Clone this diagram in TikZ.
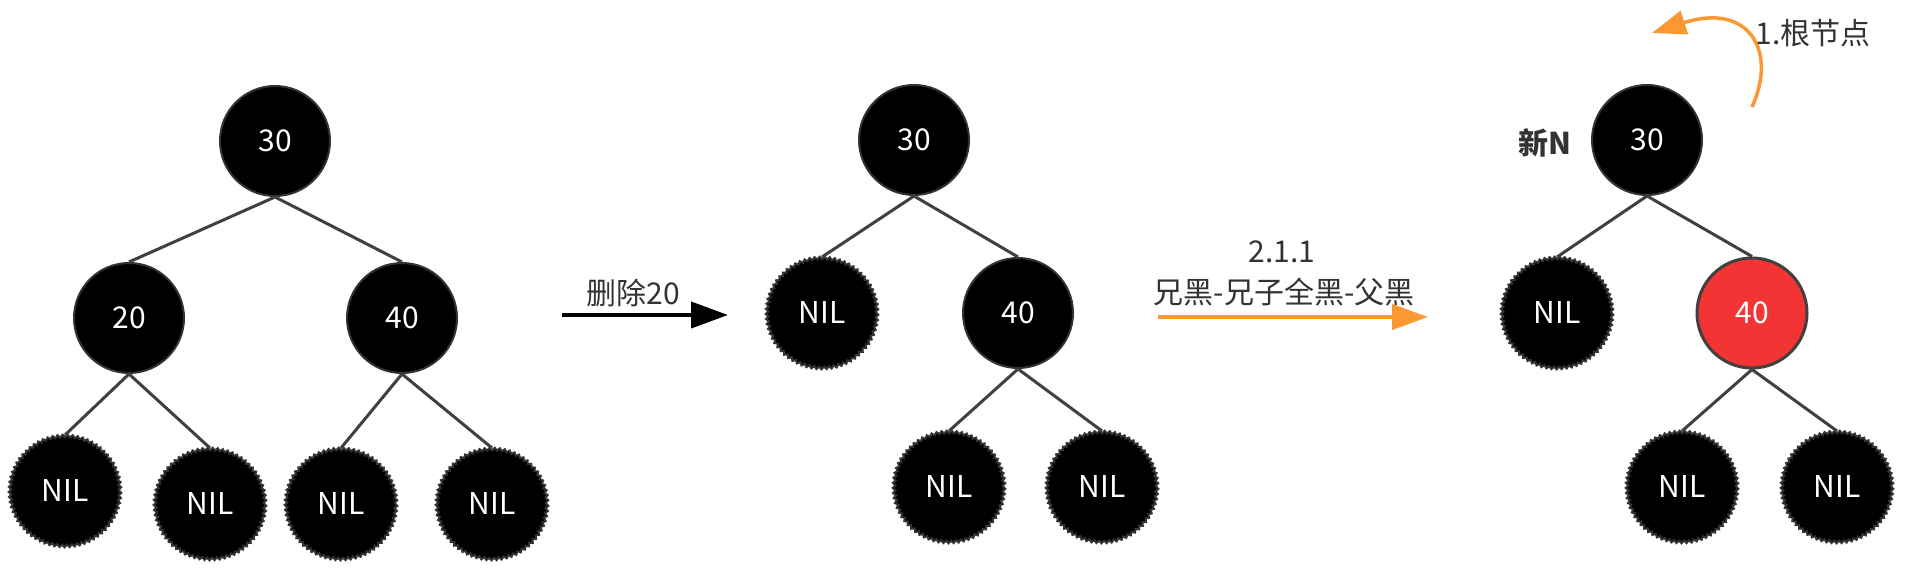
\documentclass[tikz,border=0pt]{standalone}
\usepackage{fontspec}
\setmainfont{Noto Sans CJK SC}
\usetikzlibrary{arrows.meta,decorations.pathmorphing}
\definecolor{edgegray}{RGB}{64,64,64}
\definecolor{txtgray}{RGB}{51,51,51}
\definecolor{nodered}{RGB}{242,52,52}
\definecolor{arrorange}{RGB}{250,152,52}
\begin{document}
\begin{tikzpicture}[x=1pt,y=-1pt,
  bnode/.style={circle,fill=black,draw=black!80,line width=2pt,minimum size=110pt,inner sep=0pt,text=white,font=\fontsize{30}{36}\selectfont},
  nilnode/.style={bnode,decorate,decoration={zigzag,segment length=5pt,amplitude=1.3pt}},
  rnode/.style={bnode,fill=nodered,draw=edgegray,line width=3pt},
  edge/.style={draw=edgegray,line width=3pt},
  lbl/.style={text=txtgray,font=\fontsize{30}{36}\selectfont,inner sep=0pt},
  blackarrow/.style={draw=black,line width=4pt,-{Triangle[length=37pt,width=26pt]}},
  orangearrow/.style={draw=arrorange,line width=4pt,-{Triangle[length=36pt,width=25pt]}},
]
\useasboundingbox (0,0) rectangle (1914,569);
\fill[white] (0,0) rectangle (1914,569);

% Tree 1
\node[bnode] (a30) at (275,141) {30};
\node[bnode] (a20) at (129,318) {20};
\node[bnode] (a40) at (402,318) {40};
\node[nilnode] (an1) at (65,491) {NIL};
\node[nilnode] (an2) at (210,504) {NIL};
\node[nilnode] (an3) at (341,504) {NIL};
\node[nilnode] (an4) at (492,504) {NIL};
\draw[edge] (a30.south) -- (a20.north);
\draw[edge] (a30.south) -- (a40.north);
\draw[edge] (a20.south) -- (an1.north);
\draw[edge] (a20.south) -- (an2.north);
\draw[edge] (a40.south) -- (an3.north);
\draw[edge] (a40.south) -- (an4.north);

% Arrow 1
\coordinate (b1) at (562,315);
\coordinate (b2) at (728,315);
\draw[blackarrow] (b1) -- (b2);
\node[lbl] (bl) at (633,293) {删除20};

% Tree 2
\node[bnode] (b30) at (914,140) {30};
\node[nilnode] (bn0) at (822,313) {NIL};
\node[bnode] (b40) at (1018,313) {40};
\node[nilnode] (bn1) at (949,487) {NIL};
\node[nilnode] (bn2) at (1102,487) {NIL};
\draw[edge] (b30.south) -- (bn0.north);
\draw[edge] (b30.south) -- (b40.north);
\draw[edge] (b40.south) -- (bn1.north);
\draw[edge] (b40.south) -- (bn2.north);

% Arrow 2
\coordinate (o1) at (1158,317);
\coordinate (o2) at (1428,317);
\draw[orangearrow] (o1) -- (o2);
\node[lbl] (ol1) at (1282,252) {2.1.1};
\node[lbl] (ol2) at (1284,292) {兄黑-兄子全黑-父黑};

% Tree 3
\node[bnode] (c30) at (1647,140) {30};
\node[nilnode] (cn0) at (1557,313) {NIL};
\node[rnode] (c40) at (1752,313) {40};
\node[nilnode] (cn1) at (1682,487) {NIL};
\node[nilnode] (cn2) at (1837,487) {NIL};
\draw[edge] (c30.south) -- (cn0.north);
\draw[edge] (c30.south) -- (c40.north);
\draw[edge] (c40.south) -- (cn1.north);
\draw[edge] (c40.south) -- (cn2.north);
\node[lbl,font=\fontsize{30}{36}\selectfont\bfseries] (newn) at (1545,143) {新N};

% Root arrow
\coordinate (r1) at (1752,107);
\coordinate (r2) at (1652,33);
\draw[draw=arrorange,line width=3.5pt,-{Triangle[length=34pt,width=24pt]}] (r1) .. controls (1778,50) and (1748,2) .. (r2);
\node[lbl] (rl) at (1813,33) {1.根节点};
\end{tikzpicture}
\end{document}
